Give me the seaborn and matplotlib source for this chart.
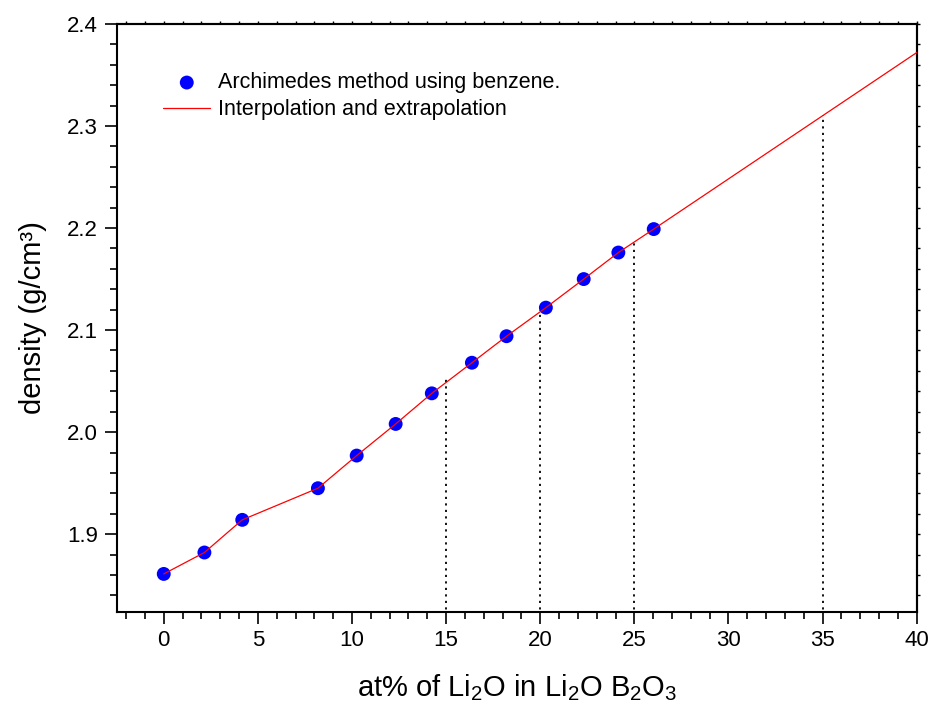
import matplotlib
matplotlib.use("Agg")
import matplotlib.pyplot as plt
import seaborn as sns
import pandas as pd
from matplotlib.ticker import MultipleLocator, NullFormatter

# ---- data ----
li2o_pct = [0.0, 2.16, 4.17, 8.19, 10.25, 12.32, 14.24, 16.37, 18.21, 20.30, 22.31, 24.15, 26.03]
density = [1.861, 1.882, 1.914, 1.945, 1.977, 2.008, 2.038, 2.068, 2.094, 2.122, 2.150, 2.176, 2.199]

# red curve: through the measured points, then extrapolated to 40 %
curve_x = li2o_pct + [40.0]
curve_y = density + [2.372]

# dotted drop lines
drop_x = [15, 20, 25, 35]
drop_y = [2.055, 2.120, 2.188, 2.311]

x_ticks = [0, 5, 10, 15, 20, 25, 30, 35, 40]
y_ticks = [1.9, 2.0, 2.1, 2.2, 2.3, 2.4]

legend_points = "Archimedes method using benzene."
legend_line = "Interpolation and extrapolation"
x_label = "at% of Li$_2$O in Li$_2$O B$_2$O$_3$"
y_label = "density (g/cm³)"

# ---- style ----
sns.set_theme(style="ticks")
plt.rcParams["font.family"] = ["Liberation Sans", "DejaVu Sans"]
plt.rcParams["mathtext.fontset"] = "custom"
plt.rcParams["mathtext.rm"] = "Liberation Sans"
plt.rcParams["mathtext.it"] = "Liberation Sans:italic"
plt.rcParams["mathtext.bf"] = "Liberation Sans:bold"
plt.rcParams["text.color"] = "black"
plt.rcParams["axes.labelcolor"] = "black"
plt.rcParams["xtick.color"] = "black"
plt.rcParams["ytick.color"] = "black"

fig = plt.figure(figsize=(9.32, 7.06), dpi=100)
ax = fig.add_axes([0.1252, 0.1336, 0.8584, 0.8324])

df_pts = pd.DataFrame({"x": li2o_pct, "y": density})
df_curve = pd.DataFrame({"x": curve_x, "y": curve_y})

ax.vlines(drop_x, 1.0, drop_y, colors="black", linestyles=(0, (1.2, 2.4)), linewidth=1.3, zorder=1)

sns.scatterplot(data=df_pts, x="x", y="y", ax=ax, color="#0000FF", s=100,
                edgecolor="none", label=legend_points, zorder=3)
sns.lineplot(data=df_curve, x="x", y="y", ax=ax, color="#FF0000", linewidth=0.9,
             sort=False, estimator=None, label=legend_line, zorder=4)

ax.set_xlim(-2.5, 40)
ax.set_ylim(1.824, 2.4)
ax.set_xticks(x_ticks)
ax.set_yticks(y_ticks)
ax.xaxis.set_minor_locator(MultipleLocator(1))
ax.yaxis.set_minor_locator(MultipleLocator(0.02))
ax.set_xticklabels([str(v) for v in x_ticks])
ax.set_yticklabels([f"{v:.1f}" for v in y_ticks])

ax.tick_params(axis="both", which="major", direction="out", length=8.5, width=1.2,
               labelsize=16, colors="black", pad=5)
ax.tick_params(axis="both", which="minor", direction="out", length=4.8, width=1.2)
for sp in ax.spines.values():
    sp.set_visible(True)
    sp.set_linewidth(1.5)
    sp.set_color("black")

# small ticks on top and right
top = ax.secondary_xaxis("top")
top.xaxis.set_major_locator(MultipleLocator(1))
top.xaxis.set_major_formatter(NullFormatter())
top.tick_params(direction="out", length=2.5, width=1.0)
top.spines["top"].set_linewidth(1.5)
right = ax.secondary_yaxis("right")
right.yaxis.set_major_locator(MultipleLocator(0.02))
right.yaxis.set_major_formatter(NullFormatter())
right.tick_params(direction="out", length=2.5, width=1.0)
right.spines["right"].set_linewidth(1.5)

ax.set_xlabel(x_label, fontsize=21, color="black", labelpad=15)
ax.set_ylabel(y_label, fontsize=21, color="black", labelpad=14)

leg = ax.legend(loc="upper left", bbox_to_anchor=(0.058, 0.918), frameon=False,
                fontsize=15.5, handlelength=2.2, handletextpad=0.35, labelspacing=0.28,
                borderpad=0, borderaxespad=0, markerscale=1.0)
for t in leg.get_texts():
    t.set_color("black")

fig.savefig("out.png", dpi=100, facecolor="white")
